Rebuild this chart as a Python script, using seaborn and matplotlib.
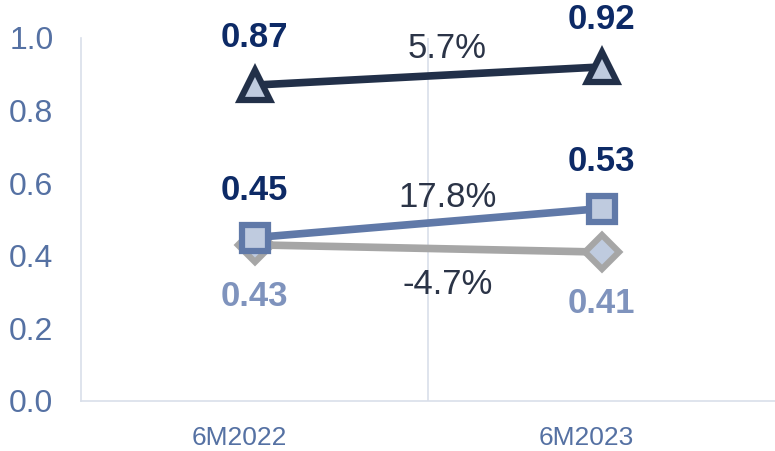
import pandas as pd
import matplotlib.pyplot as plt
import matplotlib.transforms as mtransforms
import seaborn as sns

periods = ['6M2022', '6M2023']
top_vals = [0.87, 0.92]
mid_vals = [0.45, 0.53]
low_vals = [0.43, 0.41]
changes = ['5.7%', '17.8%', '-4.7%']
change_y = [0.97, 0.56, 0.32]

sns.set_theme(style='white')
plt.rcParams['font.family'] = ['Liberation Sans', 'DejaVu Sans']

fig, ax = plt.subplots(figsize=(7.75, 4.51), dpi=100)
fig.subplots_adjust(left=0.105, right=1.0, top=0.916, bottom=0.111)

series = [
    (low_vals, '#a6a6a6', 'D', 17, '#7f93bd', -37),
    (mid_vals, '#6079a8', 's', 19, '#0d2a66', 34),
    (top_vals, '#223049', '^', 21, '#0d2a66', 34),
]
for vals, col, mk, ms, lab_col, off in series:
    df = pd.DataFrame({'period': periods, 'value': vals})
    sns.lineplot(data=df, x='period', y='value', ax=ax, color=col, lw=5.5,
                 marker=mk, markersize=ms, markerfacecolor='#bfcbdf',
                 markeredgecolor=col, markeredgewidth=4.5)
    for i, v in enumerate(vals):
        ax.annotate(f'{v:.2f}', (i, v), xytext=(0, off), textcoords='offset points',
                    ha='center', va='center', fontsize=25, fontweight='bold',
                    color=lab_col)

for txt, y in zip(changes, change_y):
    ax.text(0.555, y, txt, ha='center', va='center', fontsize=25, color='#2b3447')

ax.set_xlim(-0.5, 1.5)
ax.set_ylim(0, 1.0)
ax.set_yticks([0, 0.2, 0.4, 0.6, 0.8, 1.0])
ax.set_yticklabels([f'{t:.1f}' for t in ax.get_yticks()])
ax.axvline(0.5, color='#d9dfea', lw=1.2, zorder=0)
ax.set_xlabel('')
ax.set_ylabel('')
ax.tick_params(axis='y', labelsize=23, labelcolor='#5571a3', length=0, pad=52)
ax.tick_params(axis='x', labelsize=19, labelcolor='#5571a3', length=0, pad=18)
shift = mtransforms.ScaledTranslation(-0.15, 0, fig.dpi_scale_trans)
for lbl in ax.get_xticklabels():
    lbl.set_transform(lbl.get_transform() + shift)
for s in ['top', 'right']:
    ax.spines[s].set_visible(False)
for s in ['left', 'bottom']:
    ax.spines[s].set_color('#d9dfea')
    ax.spines[s].set_linewidth(1.2)
for t in ax.get_yticklabels():
    t.set_ha('left')

fig.savefig('out.png')
